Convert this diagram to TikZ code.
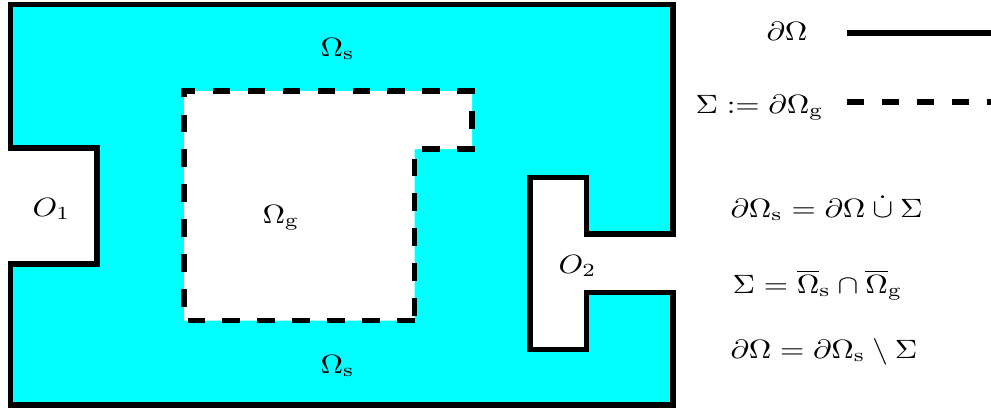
\documentclass[tikz,border=0pt]{standalone}
\usepackage{amsmath}
\definecolor{solidcyan}{RGB}{0,255,255}
\begin{document}
\begin{tikzpicture}[
        x=0.378pt, y=-0.378pt,
        wall/.style={line width=2.1pt, line join=miter},
        iface/.style={line width=1.9pt, dash pattern=on 6.6pt off 6.6pt},
        lbl/.style={anchor=base west, inner sep=0pt, xscale=1.18}
    ]
    \useasboundingbox (0,0) rectangle (991,409);

    % 1. Dominio solido con las aberturas O1 y O2
    \draw[wall, fill=solidcyan] (10.5,4.5) -- (673,4.5) -- (673,234)
        -- (586.5,234) -- (586.5,177.5) -- (530,177.5) -- (530,349.5)
        -- (586.5,349.5) -- (586.5,292.5) -- (673,292.5) -- (673,405)
        -- (10.5,405) -- (10.5,264) -- (97,264) -- (97,148)
        -- (10.5,148) -- cycle;

    % 2. Dominio de gas (interfaz Sigma)
    \draw[iface, fill=white] (414.5,320.5) -- (184,320.5) -- (184,91)
        -- (472,91) -- (472,149) -- (414.5,149) -- cycle;

    % 3. Etiquetas de las regiones
    \node[lbl] (omstop) at (320,56) {$\Omega_{\mathrm{s}}$};
    \node[lbl] (omsbot) at (320,373) {$\Omega_{\mathrm{s}}$};
    \node[lbl] (omg) at (262,223) {$\Omega_{\mathrm{g}}$};
    \node[lbl] (o1) at (32,216) {$O_1$};
    \node[lbl] (o2) at (558,273) {$O_2$};

    % 4. Leyenda
    \node[lbl] (legwall) at (766,40) {$\partial\Omega$};
    \coordinate (wallA) at (847,33);
    \coordinate (wallB) at (991,33);
    \draw[wall] (wallA) -- (wallB);

    \node[lbl] (legiface) at (695,113) {$\Sigma := \partial\Omega_{\mathrm{g}}$};
    \coordinate (ifaceA) at (847,102);
    \coordinate (ifaceB) at (991,102);
    \draw[iface] (ifaceA) -- (ifaceB);

    % 5. Relaciones
    \node[lbl] (eqa) at (730,217) {$\partial\Omega_{\mathrm{s}} = \partial\Omega \mathbin{\dot{\cup}} \Sigma$};
    \node[lbl] (eqb) at (732,293) {$\Sigma = \overline{\Omega}_{\mathrm{s}} \cap \overline{\Omega}_{\mathrm{g}}$};
    \node[lbl] (eqc) at (730,358) {$\partial\Omega = \partial\Omega_{\mathrm{s}} \setminus \Sigma$};

\end{tikzpicture}
\end{document}
